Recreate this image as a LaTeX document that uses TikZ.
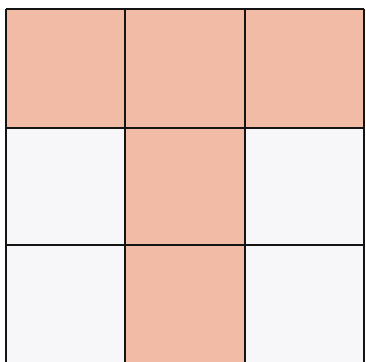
\documentclass[tikz,border=0pt]{standalone}
\definecolor{salmon}{RGB}{241,187,166}
\definecolor{paper}{RGB}{247,247,250}
\tikzset{gridline/.style={line width=2.9pt, draw=black!92}}
\begin{document}
\begin{tikzpicture}[x=1pt,y=-1pt]
\useasboundingbox (0,0) rectangle (366,361);
\fill[white] (0,0) rectangle (366,361);
\fill[paper] (6,9) rectangle (364,365);
% T shape
\fill[salmon] (6,9) rectangle (364,128);
\fill[salmon] (125,128) rectangle (245,365);
% grid lines
\draw[gridline] (6,9) -- (364,9);
\draw[gridline] (6,128) -- (364,128);
\draw[gridline] (6,245) -- (364,245);
\draw[gridline] (6,9) -- (6,365);
\draw[gridline] (125,9) -- (125,365);
\draw[gridline] (245,9) -- (245,365);
\draw[gridline] (364,9) -- (364,365);
\end{tikzpicture}
\end{document}
